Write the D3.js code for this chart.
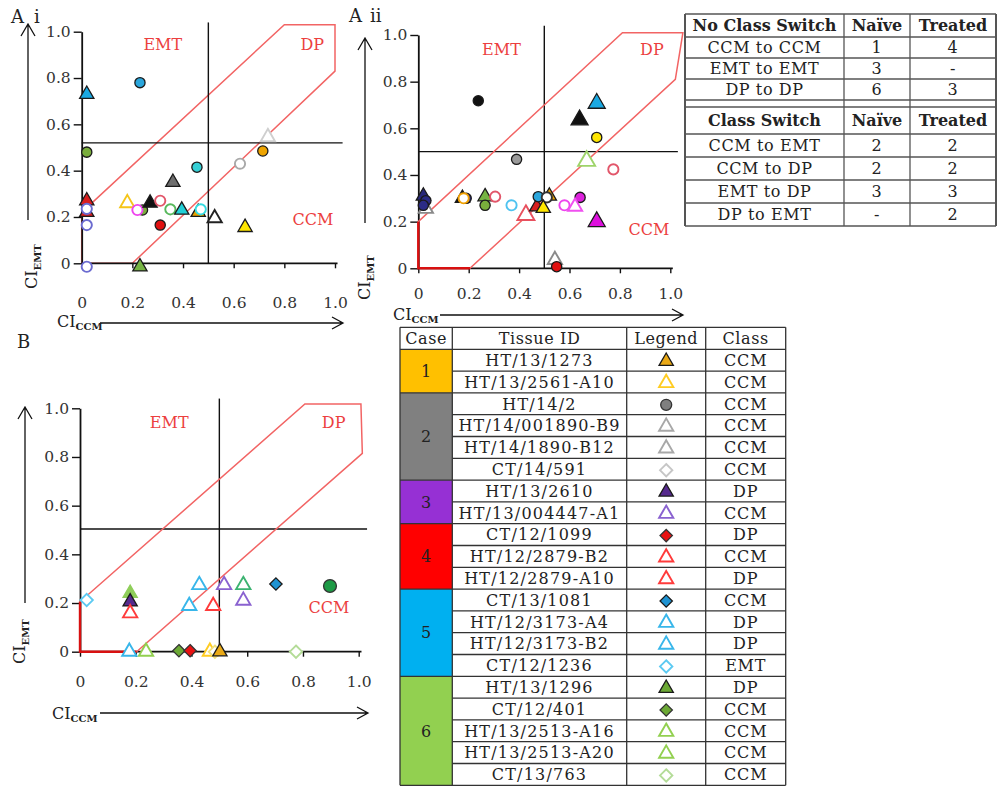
<!DOCTYPE html>
<html>
<head>
<meta charset="utf-8">
<script src="https://cdn.jsdelivr.net/npm/d3@7"></script>
<style>
  body { margin: 0; background: #fff; }
  svg { display: block; font-family: "DejaVu Serif", serif; }
</style>
</head>
<body>
<svg id="fig" width="997" height="787"></svg>
<script>
// ---------- data ----------
const tickValues = [0, 0.2, 0.4, 0.6, 0.8, 1.0];

// DP region outline, as [CI_CCM, CI_EMT] corners
const dpRegionAi  = [[0, 0], [0, 0.22], [0.8, 1.03], [1.0, 1.03], [1.0, 0.83], [0.2, 0]];
const dpRegionAii = [[0, 0], [0, 0.2], [0.81, 1.01], [1.05, 1.01], [1.02, 0.81], [0.205, 0]];
const dpRegionB   = [[0, 0], [0, 0.205], [0.807, 1.018], [1.008, 1.018], [1.013, 0.815], [0.203, 0]];

// points: [CI_CCM, CI_EMT, marker]
const pointsAi = [
  [0.02, 0.73, "skyTri"], [0.23, 0.78, "skyDot"], [0.02, 0.48, "greenDot"],
  [0.02, 0.27, "redTri"], [0.02, 0.22, "redTri"], [0.02, 0.235, "slateRing"],
  [0.02, 0.165, "slateRing"], [0.02, -0.015, "slateRing"],
  [0.18, 0.26, "yellowTriO"], [0.24, 0.23, "greenDot"], [0.22, 0.23, "magentaRing"],
  [0.27, 0.26, "blackTri"], [0.31, 0.27, "pinkRing"], [0.35, 0.233, "greenRing"],
  [0.31, 0.165, "redDot"], [0.36, 0.35, "grayTri"], [0.395, 0.23, "cyanTri"],
  [0.455, 0.415, "cyanDot"], [0.46, 0.22, "orangeTri"], [0.47, 0.233, "cyanRing"],
  [0.525, 0.195, "blackTriO"], [0.645, 0.155, "yellowTri"], [0.625, 0.43, "grayRing"],
  [0.715, 0.485, "orangeDot"], [0.735, 0.545, "lgrayTriO"], [0.23, -0.015, "greenTri"]
];
const pointsAii = [
  [0.238, 0.718, "blackDot"], [0.708, 0.707, "skyTriL"], [0.64, 0.636, "blackTriL"],
  [0.708, 0.561, "yellowDot"], [0.668, 0.46, "lgreenTriOL"], [0.774, 0.424, "pinkRing"],
  [0.39, 0.467, "grayDot"],
  [0.03, 0.255, "grayTriO"], [0.02, 0.31, "navyTri"], [0.03, 0.29, "navyDot"], [0.02, 0.27, "navyDot"],
  [0.175, 0.30, "blackTri"], [0.19, 0.30, "navyDot"], [0.18, 0.30, "orangeRing"],
  [0.265, 0.307, "greenTri"], [0.265, 0.27, "greenDot"], [0.305, 0.307, "pinkRing"],
  [0.37, 0.27, "skyRing"], [0.427, 0.228, "pinkTriOL"],
  [0.47, 0.264, "redTri"], [0.476, 0.307, "skyDot"], [0.52, 0.31, "orangeTri"],
  [0.51, 0.304, "blackRing"], [0.496, 0.257, "yellowTri"],
  [0.642, 0.304, "magentaDot"], [0.58, 0.27, "magentaRing"], [0.622, 0.264, "magentaTriO"],
  [0.708, 0.2, "magentaTriL"], [0.542, 0.036, "grayTriO"], [0.549, 0.007, "redDot"]
];
const pointsB = [
  [0.024, 0.212, "c5DiaO"], [0.18, 0.24, "c6TriF"], [0.18, 0.205, "c3Tri"], [0.18, 0.158, "c4TriO"],
  [0.177, 0, "c5TriO"], [0.237, 0, "c6TriO"], [0.428, 0.274, "c5TriO"], [0.392, 0.188, "c5TriO"],
  [0.478, 0.188, "c4TriO"], [0.517, 0.274, "c3TriO"], [0.586, 0.274, "mgreenTriO"],
  [0.586, 0.21, "c3TriO"], [0.703, 0.278, "c5Dia"], [0.897, 0.27, "dgreenDot"],
  [0.355, 0.004, "c6Dia"], [0.395, 0.004, "c4Dia"], [0.466, 0, "c1TriO"],
  [0.484, 0, "c1DiaO"], [0.502, 0, "c1Tri"], [0.775, 0, "c6DiaO"]
];

// class switch table
const noSwitchHead = ["No Class Switch", "Naïve", "Treated"];
const noSwitchRows = [["CCM to CCM", "1", "4"], ["EMT to EMT", "3", "-"], ["DP to DP", "6", "3"]];
const switchHead = ["Class Switch", "Naïve", "Treated"];
const switchRows = [["CCM to EMT", "2", "2"], ["CCM to DP", "2", "2"], ["EMT to DP", "3", "3"], ["DP to EMT", "-", "2"]];

// case table
const caseHead = ["Case", "Tissue ID", "Legend", "Class"];
const caseIds = ["1", "2", "3", "4", "5", "6"];
const caseSizes = [2, 4, 2, 3, 4, 5];
const tissueIds = [
  "HT/13/1273", "HT/13/2561-A10", "HT/14/2", "HT/14/001890-B9", "HT/14/1890-B12", "CT/14/591",
  "HT/13/2610", "HT/13/004447-A1", "CT/12/1099", "HT/12/2879-B2", "HT/12/2879-A10",
  "CT/13/1081", "HT/12/3173-A4", "HT/12/3173-B2", "CT/12/1236",
  "HT/13/1296", "CT/12/401", "HT/13/2513-A16", "HT/13/2513-A20", "CT/13/763"
];
const legendMarkers = [
  "c1Tri", "c1TriO", "c2Dot", "c2TriO", "c2TriO", "c2DiaO", "c3Tri", "c3TriO", "c4Dia", "c4TriO",
  "c4TriO", "c5Dia", "c5TriO", "c5TriO", "c5DiaO", "c6Tri", "c6Dia", "c6TriO", "c6TriO", "c6DiaO"
];
const tissueClass = [
  "CCM", "CCM", "CCM", "CCM", "CCM", "CCM", "DP", "CCM", "DP", "CCM",
  "DP", "CCM", "DP", "DP", "EMT", "DP", "CCM", "CCM", "CCM", "CCM"
];

// ---------- styles ----------
const caseColors = ["#ffc000", "#808080", "#9630d4", "#ff0000", "#00b0f0", "#92d050"];

const diamond = {
  draw(ctx, size) {
    const r = Math.sqrt(size / 2);
    ctx.moveTo(0, -r); ctx.lineTo(r, 0); ctx.lineTo(0, r); ctx.lineTo(-r, 0); ctx.closePath();
  }
};
const shapes = { tri: d3.symbolTriangle, dot: d3.symbolCircle, dia: diamond };
const areas = { tri: 88, dot: 82, dia: 76, triL: 125 };
// filled marker (dark outline) / open marker (coloured outline, white inside)
const F = (shape, fill, area, stroke = "#1a1a1a") => ({ shape, fill, stroke, area: area || areas[shape], sw: 1.3 });
const O = (shape, stroke, area) => ({ shape, fill: "#fff", stroke, area: area || areas[shape], sw: 1.9 });

const markerStyle = {
  skyTri: F("tri", "#1aa9e3"), skyTriL: F("tri", "#1aa9e3", areas.triL), skyDot: F("dot", "#2aa6dc"),
  greenDot: F("dot", "#79ad3c"), greenTri: F("tri", "#76b443"), redTri: F("tri", "#d81e1e"),
  redDot: F("dot", "#e01010"), slateRing: O("dot", "#6b6bd0"), yellowTriO: O("tri", "#f5c518"),
  magentaRing: O("dot", "#ee44ee"), blackTri: F("tri", "#111"), blackTriL: F("tri", "#111", areas.triL),
  pinkRing: O("dot", "#e2566a"), greenRing: O("dot", "#58b85c"), grayTri: F("tri", "#6e6e6e"),
  cyanTri: F("tri", "#22cfd6"), cyanDot: F("dot", "#35d0d6"), cyanRing: O("dot", "#35dbe0"),
  orangeTri: F("tri", "#e8a200"), orangeDot: F("dot", "#eea400"), orangeRing: O("dot", "#f0a000"),
  blackTriO: O("tri", "#222"), yellowTri: F("tri", "#ffe600"), yellowDot: F("dot", "#ffe600"),
  grayRing: O("dot", "#a9a9a9"), lgrayTriO: O("tri", "#cfcfcf"), grayTriO: O("tri", "#8a8a8a"),
  blackDot: F("dot", "#111"), lgreenTriOL: O("tri", "#9ed46a", areas.triL), grayDot: F("dot", "#9a9a9a"),
  navyTri: F("tri", "#28287a"), navyDot: F("dot", "#2b2b86"), skyRing: O("dot", "#4fc3f0"),
  pinkTriOL: O("tri", "#e8505e", areas.triL), blackRing: O("dot", "#333"),
  magentaDot: F("dot", "#dd22dd"), magentaTriO: O("tri", "#f050f0"), magentaTriL: F("tri", "#dd10dd", areas.triL),
  c1Tri: F("tri", "#eaa916"), c1TriO: O("tri", "#ffcc22"), c1DiaO: O("dia", "#f2e07a"),
  c2Dot: F("dot", "#7f7f7f", 95, "#333"), c2TriO: O("tri", "#a8a8a8"), c2DiaO: O("dia", "#c6c6c6"),
  c3Tri: F("tri", "#562a8e"), c3TriO: O("tri", "#8a62d0"),
  c4Dia: F("dia", "#e81212", null, "#333"), c4TriO: O("tri", "#ff3b3b"),
  c5Dia: F("dia", "#1f93d2"), c5TriO: O("tri", "#38b6ea"), c5DiaO: O("dia", "#5ccaf2"),
  c6Tri: F("tri", "#6ca935"), c6TriF: F("tri", "#8fce5a", null, "#8fce5a"), c6Dia: F("dia", "#6ca935", null, "#333"),
  c6TriO: O("tri", "#92d050"), c6DiaO: O("dia", "#b4dc98"), mgreenTriO: O("tri", "#3cb371"),
  dgreenDot: F("dot", "#1d9a45", 130, "#333")
};

const symbolPath = k => d3.symbol().type(shapes[markerStyle[k].shape]).size(markerStyle[k].area)();
function drawMarker(sel) {
  sel.attr("d", d => symbolPath(d.m))
    .attr("fill", d => markerStyle[d.m].fill)
    .attr("stroke", d => markerStyle[d.m].stroke)
    .attr("stroke-width", d => markerStyle[d.m].sw);
}

const svg = d3.select("#fig");
svg.append("rect").attr("width", 997).attr("height", 787).attr("fill", "#fff");

// ---------- scatter panels ----------
const panels = [
  { tag: [["A", 11, 23], ["i", 34, 23]], pts: pointsAi, region: dpRegionAi, hLine: 0.52, regionOnTop: false,
    px: [81.7, 335], py: [263.3, 31.7], xPad: 29,
    yArrow: [28, 220, 24], yTitle: [37, 289], xTitle: [57, 327], xArrow: [323, 100, 343],
    labels: [["EMT", 0.32, 0.92], ["DP", 0.91, 0.92], ["CCM", 0.913, 0.165]] },
  { tag: [["A", 349, 22], ["ii", 370, 22]], pts: pointsAii, region: dpRegionAii, hLine: 0.5, regionOnTop: true,
    px: [418.3, 670.3], py: [268.3, 35], xPad: 15,
    yArrow: [365, 223, 38], yTitle: [370, 300], xTitle: [393, 320], xArrow: [315, 440, 683],
    labels: [["EMT", 0.33, 0.914], ["DP", 0.927, 0.914], ["CCM", 0.915, 0.143]] },
  { tag: [["B", 17, 348]], pts: pointsB, region: dpRegionB, hLine: 0.504, regionOnTop: true,
    px: [80, 358.7], py: [651.7, 408.3], xPad: 19,
    yArrow: [25, 603, 407], yTitle: [25, 664], xTitle: [52, 719], xArrow: [713, 100, 368],
    labels: [["EMT", 0.32, 0.92], ["DP", 0.91, 0.92], ["CCM", 0.893, 0.16]] }
];

const fmt = v => v === 0 ? "0" : d3.format(".1f")(v);

panels.forEach(p => {
  const x = d3.scaleLinear().domain([0, 1]).range(p.px);
  const y = d3.scaleLinear().domain([0, 1]).range(p.py);
  const g = svg.append("g");

  p.tag.forEach(t => g.append("text").attr("x", t[1]).attr("y", t[2])
    .attr("font-size", 18).attr("fill", "#222").text(t[0]));

  const region = () => g.append("path")
    .attr("d", d3.line().x(d => x(d[0])).y(d => y(d[1]))(p.region) + "Z")
    .attr("fill", "none").attr("stroke", "#f26464").attr("stroke-width", 1.5);
  if (!p.regionOnTop) region();

  // quadrant lines
  g.append("line").attr("x1", x(0)).attr("x2", x(1.03)).attr("y1", y(p.hLine)).attr("y2", y(p.hLine))
    .attr("stroke", "#111").attr("stroke-width", 1.4);
  g.append("line").attr("x1", x(0.5)).attr("x2", x(0.5)).attr("y1", y(0)).attr("y2", y(1.04))
    .attr("stroke", "#111").attr("stroke-width", 1.4);

  // axes
  const ax = g.append("g").attr("transform", `translate(0,${y(0)})`)
    .call(d3.axisBottom(x).tickValues(tickValues).tickFormat(fmt).tickSize(5).tickSizeOuter(0).tickPadding(p.xPad));
  const ay = g.append("g").attr("transform", `translate(${x(0)},0)`)
    .call(d3.axisLeft(y).tickValues(tickValues).tickFormat(fmt).tickSize(8).tickSizeOuter(0).tickPadding(3));
  [ax, ay].forEach(a => {
    a.select(".domain").attr("stroke", "#111").attr("stroke-width", 1.8);
    a.selectAll(".tick line").attr("stroke", "#111").attr("stroke-width", 1.4);
    a.selectAll(".tick text").attr("font-family", "DejaVu Serif").attr("font-size", 15.5).attr("fill", "#333");
  });
  ax.select(".domain").attr("d", `M${x(0)},0H${x(1.01)}`);

  if (p.regionOnTop) {
    region();
    g.append("path")
      .attr("d", `M${x(0)},${y(p.region[1][1])}V${y(0)}H${x(p.region[5][0])}`)
      .attr("fill", "none").attr("stroke", "#d81010").attr("stroke-width", 2.4);
  }

  // region names
  g.selectAll(".rl").data(p.labels).join("text")
    .attr("x", d => x(d[1])).attr("y", d => y(d[2]))
    .attr("text-anchor", "middle").attr("font-size", 16).attr("fill", "#ec3f3f")
    .text(d => d[0]);

  // arrows + axis titles
  const [yax, yay1, yay2] = p.yArrow;
  g.append("path").attr("d", `M${yax},${yay1}V${yay2}M${yax - 7},${yay2 + 12}L${yax},${yay2}L${yax + 7},${yay2 + 12}`)
    .attr("fill", "none").attr("stroke", "#111").attr("stroke-width", 1.3);
  const [xay, xax1, xax2] = p.xArrow;
  g.append("path").attr("d", `M${xax1},${xay}H${xax2}M${xax2 - 11},${xay - 6}L${xax2},${xay}L${xax2 - 11},${xay + 6}`)
    .attr("fill", "none").attr("stroke", "#111").attr("stroke-width", 1.3);

  const yt = g.append("text").attr("transform", `translate(${p.yTitle[0]},${p.yTitle[1]}) rotate(-90)`)
    .attr("font-size", 16).attr("fill", "#222");
  yt.append("tspan").text("CI");
  yt.append("tspan").attr("dy", 4).attr("font-size", 10).attr("font-weight", "bold").text("EMT");
  const xt = g.append("text").attr("x", p.xTitle[0]).attr("y", p.xTitle[1])
    .attr("font-size", 16).attr("fill", "#222");
  xt.append("tspan").text("CI");
  xt.append("tspan").attr("dy", 3).attr("font-size", 10).attr("font-weight", "bold").text("CCM");

  // points
  g.selectAll(".pt").data(p.pts.map(d => ({ x: d[0], y: d[1], m: d[2] }))).join("path")
    .attr("transform", d => `translate(${x(d.x)},${y(d.y)})`)
    .call(drawMarker);
});

// ---------- class switch table ----------
(function () {
  const cols = [685, 844, 910, 996];
  const rowsY = [14, 37, 58, 79, 100, 107, 134, 157, 180, 203, 226];
  const lines = [noSwitchHead, ...noSwitchRows, null, switchHead, ...switchRows];
  const g = svg.append("g");
  rowsY.forEach(yy => g.append("line").attr("x1", cols[0]).attr("x2", cols[3]).attr("y1", yy).attr("y2", yy)
    .attr("stroke", "#555").attr("stroke-width", 1.3));
  cols.forEach((cx, i) => g.append("line").attr("x1", cx).attr("x2", cx).attr("y1", rowsY[0]).attr("y2", rowsY[rowsY.length - 1])
    .attr("stroke", "#555").attr("stroke-width", i === 0 || i === 3 ? 2 : 1.3));
  lines.forEach((row, i) => {
    if (!row) return;
    const bold = row === noSwitchHead || row === switchHead;
    row.forEach((t, j) => g.append("text")
      .attr("x", (cols[j] + cols[j + 1]) / 2).attr("y", (rowsY[i] + rowsY[i + 1]) / 2)
      .attr("dy", "0.36em").attr("text-anchor", "middle")
      .attr("font-size", 16).attr("font-weight", bold ? "bold" : "normal")
      .attr("letter-spacing", bold ? 0 : 0.6).attr("fill", "#222").text(t));
  });
})();

// ---------- case table ----------
(function () {
  const cols = [400, 452.3, 626.7, 705.7, 785.7];
  const top = 327.3, headH = 22, rowH = 21.8;
  const rowTop = i => top + headH + i * rowH;
  const g = svg.append("g");
  const starts = d3.cumsum([0, ...caseSizes]);

  caseIds.forEach((c, i) => {
    g.append("rect").attr("x", cols[0]).attr("y", rowTop(starts[i]))
      .attr("width", cols[1] - cols[0]).attr("height", caseSizes[i] * rowH).attr("fill", caseColors[i]);
    g.append("text").attr("x", (cols[0] + cols[1]) / 2).attr("y", rowTop(starts[i]) + caseSizes[i] * rowH / 2)
      .attr("dy", "0.36em").attr("text-anchor", "middle").attr("font-size", 16).attr("fill", "#222").text(c);
  });

  const line = (x1, x2, y1, y2, w) => g.append("line").attr("x1", x1).attr("x2", x2).attr("y1", y1).attr("y2", y2)
    .attr("stroke", "#333").attr("stroke-width", w || 1.3);
  line(cols[0], cols[4], top, top);
  line(cols[0], cols[4], rowTop(0), rowTop(0));
  tissueIds.forEach((t, i) => {
    const yb = rowTop(i + 1);
    const groupEnd = starts.includes(i + 1);
    line(groupEnd ? cols[0] : cols[1], cols[4], yb, yb);
  });
  cols.forEach(cx => line(cx, cx, top, rowTop(tissueIds.length)));

  caseHead.forEach((h, j) => g.append("text").attr("x", (cols[j] + cols[j + 1]) / 2).attr("y", top + headH / 2)
    .attr("dy", "0.36em").attr("text-anchor", "middle").attr("font-size", 16).attr("letter-spacing", 0.6)
    .attr("fill", "#222").text(h));

  tissueIds.forEach((t, i) => {
    const cy = rowTop(i) + rowH / 2;
    g.append("text").attr("x", (cols[1] + cols[2]) / 2).attr("y", cy).attr("dy", "0.36em")
      .attr("text-anchor", "middle").attr("font-size", 16).attr("letter-spacing", 1.2).attr("fill", "#222").text(t);
    g.append("text").attr("x", (cols[3] + cols[4]) / 2).attr("y", cy).attr("dy", "0.36em")
      .attr("text-anchor", "middle").attr("font-size", 16).attr("letter-spacing", 0.8).attr("fill", "#222").text(tissueClass[i]);
  });

  g.selectAll(".lg").data(legendMarkers.map((m, i) => ({ m, i }))).join("path")
    .attr("transform", d => `translate(${(cols[2] + cols[3]) / 2},${rowTop(d.i) + rowH / 2 + 1})`)
    .call(drawMarker);
})();
</script>
</body>
</html>
